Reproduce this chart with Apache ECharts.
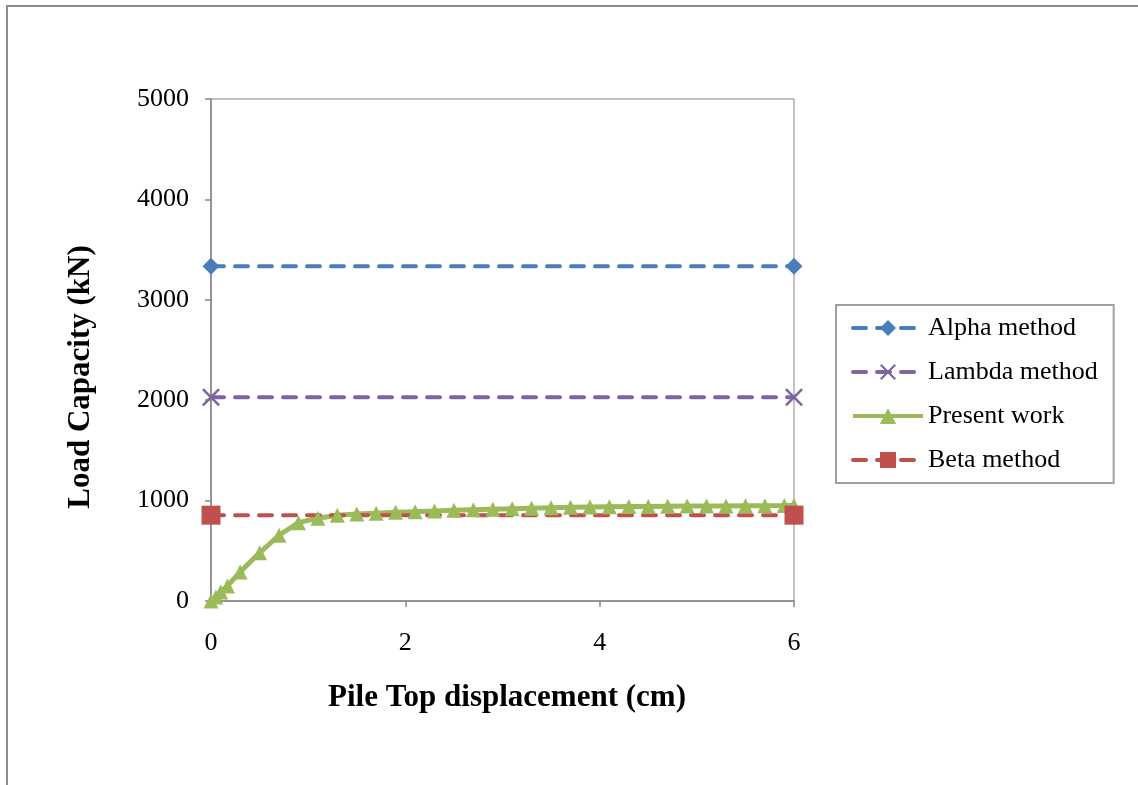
<!DOCTYPE html>
<html>
<head>
<meta charset="utf-8">
<script src="https://cdn.jsdelivr.net/npm/echarts@6/dist/echarts.min.js"></script>
<style>
html,body{margin:0;padding:0;background:#fff;}
#chart{width:1138px;height:785px;}
</style>
</head>
<body>
<div id="chart"></div>
<script>
// ---- data ----
var seriesNames = ['Alpha method', 'Lambda method', 'Present work', 'Beta method'];
var xEnds = [0, 6];
var alphaValues = [3335, 3335];
var lambdaValues = [2030, 2030];
var betaValues = [855, 855];
var presentX = [0, 0.05, 0.1, 0.17, 0.3, 0.5, 0.7, 0.9, 1.1, 1.3, 1.5, 1.7, 1.9, 2.1, 2.3, 2.5, 2.7, 2.9, 3.1, 3.3, 3.5, 3.7, 3.9, 4.1, 4.3, 4.5, 4.7, 4.9, 5.1, 5.3, 5.5, 5.7, 5.9, 6.0];
var presentY = [0, 40, 90, 150, 290, 480, 655, 780, 825, 855, 866, 875, 883, 890, 897, 903, 909, 914, 919, 924, 929, 933, 936, 938, 940, 942, 944, 945, 946, 947, 948, 949, 950, 951];
var xTicks = [0, 2, 4, 6];
var yTicks = [0, 1000, 2000, 3000, 4000, 5000];
var xTitle = 'Pile Top displacement (cm)';
var yTitle = 'Load Capacity (kN)';

function pairs(xs, ys) { return xs.map(function (x, i) { return [x, ys[i]]; }); }

var FONT = "'Liberation Serif', 'Times New Roman', serif";
var crossPath = 'path://M0,1 L1,0 L5,4 L9,0 L10,1 L6,5 L10,9 L9,10 L5,6 L1,10 L0,9 L4,5 Z';
var dash = [13, 11];

var chart = echarts.init(document.getElementById('chart'), null, {renderer: 'canvas'});
chart.setOption({
  backgroundColor: '#ffffff',
  animation: false,
  grid: {left: 211, right: 344, top: 99, bottom: 184, show: true, borderColor: '#868686', borderWidth: 1},
  xAxis: {
    type: 'value', min: xTicks[0], max: xTicks[xTicks.length - 1], interval: 2,
    axisLine: {show: true, onZero: false, lineStyle: {color: '#868686', width: 1.5}},
    axisTick: {show: true, length: 6, lineStyle: {color: '#868686', width: 1.5}},
    splitLine: {show: false},
    axisLabel: {fontFamily: FONT, fontSize: 26, color: '#000', margin: 29, formatter: function (v) { return String(v); }}
  },
  yAxis: {
    type: 'value', min: yTicks[0], max: yTicks[yTicks.length - 1], interval: 1000,
    axisLine: {show: true, lineStyle: {color: '#868686', width: 1.5}},
    axisTick: {show: true, length: 6, lineStyle: {color: '#868686', width: 1.5}},
    splitLine: {show: false},
    axisLabel: {fontFamily: FONT, fontSize: 26, color: '#000', margin: 22, formatter: function (v) { return String(v); }}
  },
  legend: {
    orient: 'vertical', left: 836, top: 305,
    padding: [10, 16, 10, 15],
    itemWidth: 70, itemHeight: 20, itemGap: 18,
    borderColor: '#a0a0a0', borderWidth: 2,
    lineStyle: {width: 4},
    textStyle: {fontFamily: FONT, fontSize: 26, color: '#000'},
    data: seriesNames
  },
  series: [
    {
      name: seriesNames[0], type: 'line', data: pairs(xEnds, alphaValues),
      symbol: 'diamond', symbolSize: 17,
      lineStyle: {color: '#4A7EBB', width: 4, type: dash, cap: 'round'},
      itemStyle: {color: '#4A7EBB'}
    },
    {
      name: seriesNames[1], type: 'line', data: pairs(xEnds, lambdaValues),
      symbol: crossPath, symbolSize: 18,
      lineStyle: {color: '#8064A2', width: 4, type: dash, cap: 'round'},
      itemStyle: {color: '#8064A2'}
    },
    {
      name: seriesNames[2], type: 'line', data: pairs(presentX, presentY),
      symbol: 'triangle', symbolSize: 15,
      lineStyle: {color: '#9BBB59', width: 5},
      itemStyle: {color: '#9BBB59'}
    },
    {
      name: seriesNames[3], type: 'line', data: pairs(xEnds, betaValues),
      symbol: 'rect', symbolSize: 19,
      lineStyle: {color: '#C0504D', width: 4, type: dash, cap: 'round'},
      itemStyle: {color: '#C0504D'}
    }
  ],
  graphic: [
    {type: 'rect', shape: {x: 7, y: 6, width: 1200, height: 900}, style: {fill: 'none', stroke: '#8c8c8c', lineWidth: 2}, silent: true},
    {type: 'text', x: 507, y: 698, style: {text: xTitle, fontFamily: FONT, fontSize: 31, fontWeight: 'bold', fill: '#000', align: 'center', verticalAlign: 'middle'}},
    {type: 'text', x: 81, y: 377, rotation: Math.PI / 2, style: {text: yTitle, fontFamily: FONT, fontSize: 31, fontWeight: 'bold', fill: '#000', align: 'center', verticalAlign: 'middle'}}
  ]
});
</script>
</body>
</html>
